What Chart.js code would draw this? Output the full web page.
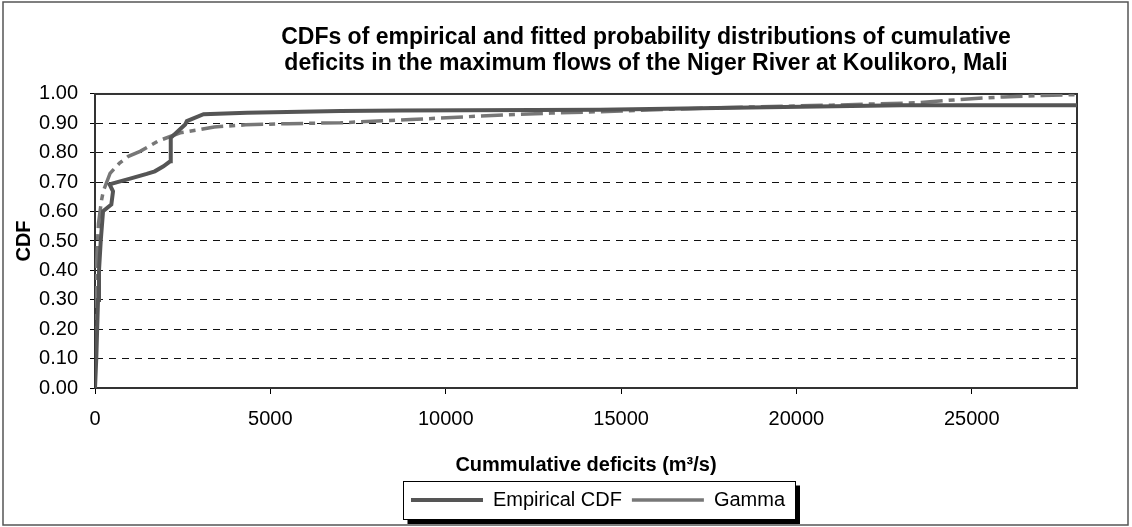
<!DOCTYPE html>
<html>
<head>
<meta charset="utf-8">
<script src="https://cdn.jsdelivr.net/npm/chart.js@4/dist/chart.umd.min.js"></script>
<style>
  html, body { margin: 0; padding: 0; background: #fff; }
  #wrap { width: 1132px; height: 527px; }
</style>
</head>
<body>
<div id="wrap"><canvas id="cdfChart" width="1132" height="527"></canvas></div>
<script>
// values
const empiricalX = [0, 38, 86, 114, 162, 229, 466, 514, 419, 486, 1000, 1476, 1705, 1952, 2143, 2160, 2571, 2619, 3095, 4333, 7000, 8700, 14400, 18200, 23000, 28000];
const empiricalY = [0, 0.106, 0.299, 0.40, 0.498, 0.601, 0.624, 0.669, 0.692, 0.695, 0.712, 0.728, 0.737, 0.754, 0.771, 0.851, 0.896, 0.908, 0.931, 0.936, 0.942, 0.944, 0.946, 0.953, 0.962, 0.962];

const gammaX = [0, 10, 30, 60, 100, 181, 238, 429, 700, 952, 1286, 1800, 2429, 3000, 3400, 4300, 5500, 7000, 9000, 11000, 13000, 15000, 16300, 18500, 21000, 23400, 24300, 25100, 25900, 27000, 28000];
const gammaY = [0, 0.2, 0.36, 0.47, 0.56, 0.635, 0.67, 0.73, 0.765, 0.788, 0.805, 0.84, 0.868, 0.879, 0.888, 0.895, 0.899, 0.902, 0.913, 0.925, 0.935, 0.942, 0.948, 0.955, 0.962, 0.97, 0.978, 0.985, 0.99, 0.995, 0.998];

const xTickValues = [0, 5000, 10000, 15000, 20000, 25000];
const xMax = 28000;
const yTickStep = 0.1;

const seriesNames = ['Empirical CDF', 'Gamma'];
const chartTitle = ['CDFs of empirical and fitted probability distributions of cumulative',
                    'deficits in the maximum flows of the Niger River at Koulikoro, Mali'];
const xTitle = 'Cummulative deficits (m\u00b3/s)';
const yTitle = 'CDF';

const FONT = 'Arial, "Liberation Sans", sans-serif';
const TITLE_SHIFT = 60;   // the original title sits right of centre
const LEGEND_SHIFT = 12;
const toPoints = (xs, ys) => xs.map((x, i) => ({ x: x, y: ys[i] }));

const framePlugin = {
    id: 'frames',
    afterUpdate: (chart) => {
        if (chart.titleBlock) {
            chart.titleBlock.left += TITLE_SHIFT;
            chart.titleBlock.right += TITLE_SHIFT;
        }
        if (chart.legend) {
            chart.legend.left += LEGEND_SHIFT;
            chart.legend.right += LEGEND_SHIFT;
        }
    },
    beforeDraw: (chart) => {
        const c = chart.ctx;
        c.save();
        c.fillStyle = '#fff';
        c.fillRect(0, 0, chart.width, chart.height);
        c.strokeStyle = '#555';
        c.lineWidth = 1.5;
        c.strokeRect(3, 2, chart.width - 7, chart.height - 4);
        c.restore();
    },
    beforeDatasetsDraw: (chart) => {
        const a = chart.chartArea;
        const c = chart.ctx;
        c.save();
        c.strokeStyle = '#333';
        c.lineWidth = 2;
        c.strokeRect(a.left, a.top, a.right - a.left, a.bottom - a.top);
        c.restore();
    },
    afterDraw: (chart) => {
        // boxed legend with a drop shadow, like the spreadsheet original
        const hb = chart.legend && chart.legend.legendHitBoxes;
        if (!hb || !hb.length) return;
        const last = hb[hb.length - 1];
        const left = Math.round(hb[0].left + LEGEND_SHIFT) - 7.5;
        const right = Math.round(last.left + last.width + LEGEND_SHIFT) + 10.5;
        const top = Math.round(hb[0].top) - 8.5;
        const bottom = Math.round(hb[0].top + hb[0].height) + 9.5;
        const c = chart.ctx;
        c.save();
        c.strokeStyle = '#000';
        c.lineWidth = 1;
        c.strokeRect(left, top, right - left, bottom - top);
        c.fillStyle = '#000';
        c.fillRect(right + 0.5, top + 4, 4, bottom - top);
        c.fillRect(left + 4, bottom + 0.5, right - left + 0.5, 4);
        c.restore();
    }
};

new Chart(document.getElementById('cdfChart'), {
    type: 'line',
    data: {
        datasets: [{
            label: seriesNames[0],
            data: toPoints(empiricalX, empiricalY),
            borderColor: '#555555',
            borderWidth: 4,
            pointRadius: 0,
            tension: 0
        }, {
            label: seriesNames[1],
            data: toPoints(gammaX, gammaY),
            borderColor: '#777777',
            borderWidth: 3.5,
            borderDash: [22, 6, 6, 6],
            pointRadius: 0,
            tension: 0
        }]
    },
    options: {
        responsive: false,
        animation: false,
        layout: { padding: { left: 5, right: 55, top: 0, bottom: 7 } },
        plugins: {
            title: {
                display: true,
                fullSize: false,
                text: chartTitle,
                color: '#000',
                font: { family: FONT, size: 23, weight: 'bold', lineHeight: 1.13 },
                padding: { top: 25, bottom: 17 }
            },
            legend: {
                position: 'bottom',
                fullSize: false,
                labels: {
                    usePointStyle: true,
                    pointStyle: 'line',
                    pointStyleWidth: 72,
                    color: '#000',
                    padding: 10,
                    font: { family: FONT, size: 20 }
                }
            },
            tooltip: { enabled: false }
        },
        scales: {
            x: {
                type: 'linear',
                min: 0,
                max: xMax,
                afterBuildTicks: (scale) => { scale.ticks = xTickValues.map(v => ({ value: v })); },
                grid: { display: true, drawOnChartArea: false, drawTicks: true, tickLength: 6, tickColor: '#000' },
                border: { display: true, color: '#222', width: 2 },
                ticks: {
                    padding: 13,
                    color: '#000',
                    autoSkip: false,
                    font: { family: FONT, size: 20 },
                    maxRotation: 0,
                    callback: (v) => String(v)
                },
                title: {
                    display: true,
                    text: xTitle,
                    color: '#000',
                    font: { family: FONT, size: 20, weight: 'bold' },
                    padding: { top: 9, bottom: 3 }
                }
            },
            y: {
                min: 0,
                max: 1,
                afterFit: (scale) => { scale.width = 90; },
                grid: { color: '#111', lineWidth: 1, tickLength: 5, tickColor: '#000' },
                border: { display: true, color: '#222', width: 2, dash: [7, 6] },
                ticks: {
                    stepSize: yTickStep,
                    padding: 12,
                    color: '#000',
                    font: { family: FONT, size: 20 },
                    callback: (v) => v.toFixed(2)
                },
                title: {
                    display: true,
                    text: yTitle,
                    color: '#000',
                    font: { family: FONT, size: 20, weight: 'bold' },
                    padding: { top: 7, bottom: 0 }
                }
            }
        }
    },
    plugins: [framePlugin]
});
</script>
</body>
</html>
